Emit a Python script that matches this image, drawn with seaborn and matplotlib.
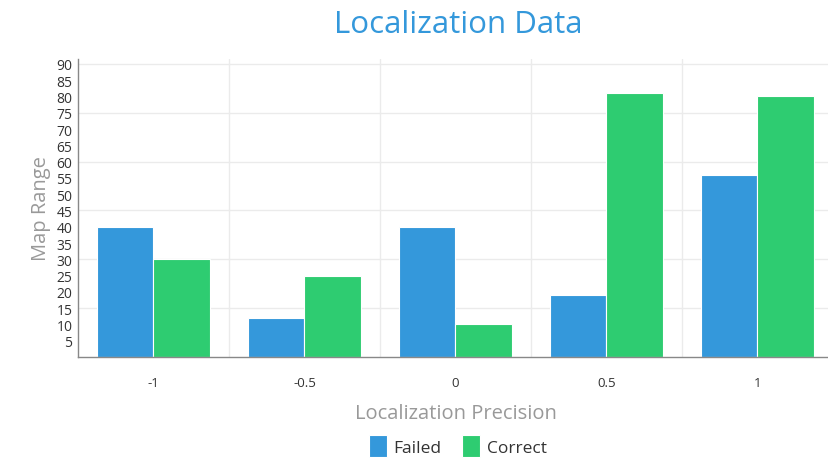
import pandas as pd
import matplotlib.pyplot as plt
import seaborn as sns
from matplotlib.ticker import FixedLocator

# Dados
precisao = ['-1', '-0.5', '0', '0.5', '1']
failed = [40, 12, 40, 19, 56]
correct = [30, 25, 10, 81, 80]
series = ['Failed', 'Correct']
cores = {'Failed': '#3498db', 'Correct': '#2ecc71'}
y_ticks = list(range(5, 95, 5))
y_grade = list(range(15, 95, 15))

df = pd.DataFrame({
    'Localization Precision': precisao * 2,
    'Map Range': failed + correct,
    'Serie': ['Failed'] * len(precisao) + ['Correct'] * len(precisao),
})

sns.set_theme(style="white")
plt.rcParams['font.family'] = ['Open Sans', 'DejaVu Sans']

fig = plt.figure(figsize=(8.29, 4.60), dpi=100)
ax = fig.add_axes([78 / 829, 1 - 358 / 460, 755 / 829, 298 / 460])

# Grade horizontal de 15 em 15
for v in y_grade:
    ax.axhline(v, color='#ebebeb', linewidth=1, zorder=0)

sns.barplot(data=df, x='Localization Precision', y='Map Range', hue='Serie',
            hue_order=series, order=precisao, palette=cores, width=0.75,
            edgecolor='white', linewidth=0.8, saturation=1, ax=ax, zorder=2)

ax.set_ylim(0, 91.5)
ax.set_xlim(-0.5, 4.5)

ax.yaxis.set_major_locator(FixedLocator(y_ticks))
ax.set_yticklabels([str(v) for v in y_ticks])
ax.xaxis.set_minor_locator(FixedLocator([0.5, 1.5, 2.5, 3.5]))
ax.grid(False, which='major')
ax.grid(True, which='minor', axis='x', color='#ebebeb', linewidth=1)
ax.tick_params(axis='y', which='both', length=0, labelsize=10, colors='#333333', pad=4)
ax.tick_params(axis='x', which='both', length=0, labelsize=9.5, colors='#333333', pad=14)
ax.set_axisbelow(True)

for s in ['top', 'right']:
    ax.spines[s].set_visible(False)
for s in ['left', 'bottom']:
    ax.spines[s].set_color('#888888')
    ax.spines[s].set_linewidth(1)

ax.set_xlabel('Localization Precision', fontsize=14.5, color='#999999', labelpad=10)
ax.set_ylabel('Map Range', fontsize=14.5, color='#999999', labelpad=4)

fig.suptitle('Localization Data', fontsize=22.5, color='#3498db', x=458 / 829, y=1 - 25 / 460, va='center')

ax.legend_.remove()
handles, labels = ax.get_legend_handles_labels()
fig.legend(handles, labels, loc='center', bbox_to_anchor=(458 / 829, 1 - 447 / 460),
           ncol=2, frameon=False, fontsize=12.5, handlelength=1.0, handleheight=1.5,
           handletextpad=0.4, columnspacing=1.2, labelcolor='#333333')

plt.savefig('out.png', dpi=100)
plt.close()
